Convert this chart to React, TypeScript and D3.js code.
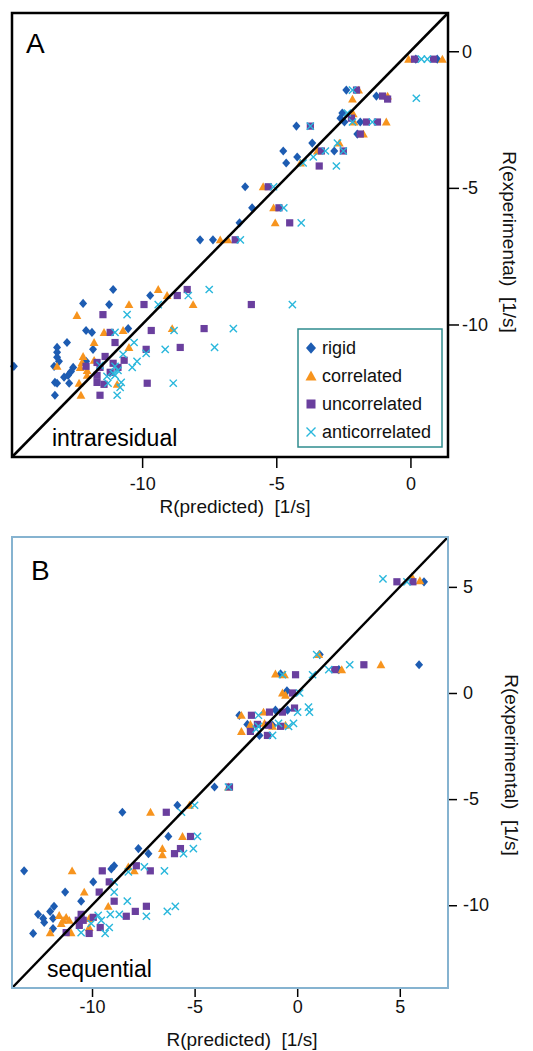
import React, { useEffect, useRef } from "react";
import { axisBottom, axisRight, ScaleLinear, scaleLinear, select } from "d3";

type Pt = [number, number];

const FONT = "'Liberation Sans', Arial, Helvetica, sans-serif";

const seriesNames = ["rigid", "correlated", "uncorrelated", "anticorrelated"];
const seriesColors = ["#1d5cb2", "#f7941e", "#6a3f9e", "#29b7dc"];

// panel A: intraresidual  [R(predicted), R(experimental)]
const rigidA: Pt[] = [
  [1.0, -0.29], [0.2, -0.29], [-2.39, -1.42], [-1.27, -1.64], [-2.54, -2.26], [-2.61, -2.45],
  [-2.46, -2.59], [-1.87, -2.59], [-4.25, -2.74], [-1.98, -3.03], [-3.66, -3.36], [-4.74, -3.65],
  [-2.84, -3.65], [-4.22, -3.87], [-4.63, -4.09], [-6.16, -4.96], [-5.9, -5.73], [-6.37, -6.28],
  [-7.84, -6.9], [-7.36, -6.9], [-11.08, -8.72], [-9.7, -8.94], [-12.2, -9.23], [-11.23, -9.27],
  [-12.09, -10.22], [-11.87, -10.29], [-10.52, -10.15], [-12.8, -10.66], [-13.17, -10.84],
  [-13.17, -11.02], [-11.83, -10.91], [-13.17, -11.2], [-13.1, -11.35], [-12.09, -11.35],
  [-14.78, -11.53], [-13.28, -11.53], [-12.57, -11.57], [-12.65, -11.72], [-12.91, -11.93],
  [-12.76, -11.86], [-13.25, -12.12], [-13.17, -12.15], [-12.72, -12.15], [-13.25, -12.59],
];
const corrA: Pt[] = [
  [-0.07, -0.29], [1.19, -0.29], [-1.93, -1.42], [-2.16, -1.75], [-0.85, -1.64], [-2.13, -2.29],
  [-0.9, -2.59], [-2.1, -2.59], [-1.75, -3.03], [-2.65, -3.36], [-3.47, -3.65], [-4.1, -4.09],
  [-5.49, -4.96], [-5.1, -5.73], [-5.04, -6.28], [-7.09, -6.9], [-6.8, -6.9], [-9.4, -8.72],
  [-9.07, -8.94], [-8.1, -9.27], [-10.49, -9.27], [-12.43, -9.67], [-11.42, -10.29],
  [-10.71, -10.22], [-8.88, -10.15], [-11.79, -10.66], [-10.49, -10.84], [-12.2, -11.17],
  [-11.79, -11.31], [-12.24, -11.39], [-13.17, -11.53], [-12.31, -11.57], [-12.05, -11.68],
  [-12.05, -11.86], [-12.35, -12.15], [-10.93, -12.19], [-12.28, -12.59],
];
const uncorrA: Pt[] = [
  [0.15, -0.29], [0.86, -0.29], [-2.01, -1.42], [-1.04, -1.64], [-0.85, -1.75], [-2.2, -2.45],
  [-1.64, -2.59], [-1.23, -2.59], [-3.73, -2.74], [-1.87, -3.03], [-3.32, -3.65], [-2.5, -3.65],
  [-3.4, -4.2], [-5.3, -4.96], [-4.9, -5.73], [-4.5, -6.28], [-6.53, -6.9], [-8.32, -8.72],
  [-8.69, -8.94], [-9.93, -9.27], [-5.93, -9.27], [-11.46, -9.64], [-11.19, -10.29],
  [-9.66, -10.22], [-7.69, -10.15], [-11.01, -10.66], [-9.85, -10.91], [-8.58, -10.84],
  [-11.38, -11.17], [-11.68, -11.39], [-11.08, -11.42], [-10.67, -11.31], [-12.09, -11.53],
  [-10.9, -11.57], [-11.57, -11.57], [-11.19, -11.75], [-11.68, -11.86], [-11.68, -12.12],
  [-11.42, -12.19], [-9.81, -12.15], [-11.57, -12.59],
];
const antiA: Pt[] = [
  [0.41, -0.29], [0.63, -0.29], [-2.16, -1.42], [0.22, -1.72], [-2.35, -2.26], [-2.16, -2.59],
  [-1.42, -2.59], [-3.73, -2.74], [-2.72, -3.36], [-3.17, -3.65], [-2.5, -3.65], [-3.62, -3.87],
  [-4.0, -4.09], [-2.76, -4.2], [-5.1, -4.96], [-4.72, -5.73], [-4.07, -6.28], [-6.34, -6.9],
  [-7.5, -8.72], [-8.28, -8.94], [-9.4, -9.27], [-4.4, -9.27], [-10.56, -9.64], [-11.01, -10.29],
  [-8.81, -10.22], [-6.6, -10.15], [-10.3, -10.66], [-9.14, -10.91], [-9.85, -11.06],
  [-7.3, -10.84], [-10.71, -11.09], [-10.19, -11.35], [-11.57, -11.5], [-11.01, -11.53],
  [-10.37, -11.57], [-10.9, -11.68], [-11.08, -11.79], [-11.31, -11.9], [-11.01, -11.86],
  [-11.27, -12.15], [-10.78, -12.12], [-8.84, -12.15], [-10.82, -12.3], [-10.93, -12.59],
];

// panel B: sequential
const rigidB: Pt[] = [
  [6.18, 5.24], [1.1, 1.81], [5.94, 1.33], [2.03, 1.1], [-0.81, 0.9], [-0.5, 0.1], [-1.06, -0.81],
  [-0.47, -0.81], [-2.82, -1.05], [-2.43, -1.48], [-1.2, -1.52], [-1.84, -2.0], [-4.03, -4.43],
  [-5.84, -5.29], [-8.52, -5.62], [-6.28, -6.76], [-7.74, -7.33], [-7.25, -7.57], [-13.31, -8.38],
  [-9.06, -8.29], [-8.92, -8.14], [-9.94, -8.9], [-11.31, -9.38], [-10.53, -9.81], [-11.85, -10.05],
  [-12.04, -10.29], [-12.63, -10.43], [-12.38, -10.62], [-11.9, -10.62], [-12.33, -10.81],
  [-12.87, -11.33], [-11.9, -11.1],
];
const corrB: Pt[] = [
  [5.59, 5.48], [5.98, 5.29], [1.05, 1.81], [4.08, 1.33], [2.17, 1.1], [-1.06, 0.9], [-0.62, 0.86],
  [-0.72, 0.0], [-0.57, -0.1], [-2.72, -1.05], [-1.64, -0.9], [-2.28, -1.48], [-1.59, -1.43],
  [-1.2, -1.57], [-0.57, -1.52], [-2.72, -1.81], [-3.35, -4.43], [-5.25, -5.29], [-7.15, -5.62],
  [-5.59, -6.76], [-6.57, -7.33], [-6.57, -7.62], [-10.97, -8.38], [-8.23, -8.19], [-7.94, -8.38],
  [-10.38, -9.38], [-9.21, -10.05], [-11.6, -10.48], [-11.26, -10.57], [-11.41, -10.71],
  [-11.11, -10.71], [-10.14, -10.62], [-11.5, -10.86], [-12.04, -11.29], [-11.02, -11.29],
  [-10.14, -11.05],
];
const uncorrB: Pt[] = [
  [4.86, 5.24], [5.64, 5.24], [3.25, 1.33], [1.83, 1.1], [-0.08, 0.86], [-0.23, 0.0], [-2.23, -1.05],
  [-1.35, -0.9], [-0.72, -0.9], [-0.13, -0.71], [-1.94, -1.48], [-1.4, -1.52], [-0.81, -1.57],
  [-2.28, -1.81], [-1.45, -2.0], [-3.3, -4.43], [-6.38, -5.62], [-5.2, -6.76], [-5.69, -7.33],
  [-5.98, -7.57], [-9.5, -8.38], [-7.84, -8.14], [-7.16, -8.38], [-9.16, -8.9], [-9.65, -9.38],
  [-8.92, -9.81], [-7.35, -10.05], [-7.89, -10.29], [-10.53, -10.43], [-8.33, -10.52],
  [-10.67, -10.71], [-10.43, -10.71], [-9.94, -10.57], [-10.62, -10.95], [-9.6, -11.05],
  [-11.26, -11.29], [-10.14, -11.33],
];
const antiB: Pt[] = [
  [4.18, 5.38], [5.35, 5.24], [0.95, 1.81], [2.56, 1.33], [1.54, 1.1], [-0.72, 0.86], [0.75, 0.86],
  [0.12, 0.0], [-1.89, -1.05], [0.02, -0.9], [0.55, -0.67], [0.6, -0.9], [-1.89, -1.57],
  [-0.91, -1.43], [-0.42, -1.57], [-0.18, -1.43], [-2.0, -1.7], [-1.2, -2.0], [-3.35, -4.43],
  [-5.0, -5.29], [-5.64, -5.62], [-4.86, -6.76], [-5.06, -7.33], [-5.54, -7.57], [-7.45, -8.19],
  [-6.47, -8.38], [-8.23, -8.43], [-8.92, -8.9], [-8.92, -9.38], [-8.28, -9.81], [-5.94, -10.05],
  [-6.33, -10.29], [-9.7, -10.48], [-9.11, -10.43], [-8.67, -10.43], [-7.35, -10.52],
  [-9.55, -10.71], [-10.04, -10.86], [-9.16, -11.05], [-9.36, -11.33], [-10.53, -11.29],
];

const ticksA = [-10, -5, 0];
const ticksB = [-10, -5, 0, 5];
const xTitle = "R(predicted)\u00a0\u00a0[1/s]";
const yTitle = "R(experimental)\u00a0\u00a0[1/s]";

function Marker({ kind, x, y, k = 1 }: { kind: number; x: number; y: number; k?: number }) {
  const c = seriesColors[kind];
  if (kind === 0) {
    const h = 4.6 * k, w = 4 * k;
    return <path d={`M${x},${y - h}L${x + w},${y}L${x},${y + h}L${x - w},${y}Z`} fill={c} />;
  }
  if (kind === 1) {
    const s = 4.4 * k;
    return <path d={`M${x},${y - s}L${x + s},${y + s * 0.8}L${x - s},${y + s * 0.8}Z`} fill={c} />;
  }
  if (kind === 2) {
    const s = 3.6 * k;
    return <rect x={x - s} y={y - s} width={2 * s} height={2 * s} fill={c} />;
  }
  const s = 3.6 * k;
  return (
    <path
      d={`M${x - s},${y - s}L${x + s},${y + s}M${x - s},${y + s}L${x + s},${y - s}`}
      stroke={c}
      strokeWidth={1.4}
      fill="none"
    />
  );
}

interface AxisProps {
  scale: ScaleLinear<number, number>;
  at: number;
  ticks: number[];
  size: number;
  pad: number;
}

function AxisBottom({ scale, at, ticks, size, pad }: AxisProps) {
  const ref = useRef<SVGGElement>(null);
  useEffect(() => {
    if (!ref.current) return;
    const g = select(ref.current);
    g.call(axisBottom(scale).tickValues(ticks).tickSize(size).tickPadding(pad).tickFormat((d) => String(d)));
    g.select(".domain").remove();
    g.selectAll(".tick line").attr("stroke", "#000").attr("stroke-width", 1.5);
    g.selectAll(".tick text").attr("font-size", 18).attr("font-family", FONT).attr("fill", "#111");
  }, [scale, ticks, size, pad]);
  return <g ref={ref} transform={`translate(0,${at})`} />;
}

function AxisRight({ scale, at, ticks, size, pad }: AxisProps) {
  const ref = useRef<SVGGElement>(null);
  useEffect(() => {
    if (!ref.current) return;
    const g = select(ref.current);
    g.call(axisRight(scale).tickValues(ticks).tickSize(size).tickPadding(pad).tickFormat((d) => String(d)));
    g.select(".domain").remove();
    g.selectAll(".tick line").attr("stroke", "#000").attr("stroke-width", 1.5);
    g.selectAll(".tick text").attr("font-size", 18).attr("font-family", FONT).attr("fill", "#111");
  }, [scale, ticks, size, pad]);
  return <g ref={ref} transform={`translate(${at},0)`} />;
}

interface PanelProps {
  frame: { left: number; right: number; top: number; bottom: number };
  domain: [number, number];
  ticks: number[];
  series: Pt[][];
  letter: string;
  tag: string;
  tagPos: [number, number];
  letterPos: [number, number];
  frameColor: string;
  frameWidth: number;
  tickLen: number;
  xPad: number;
  yPad: number;
  xTitlePos: [number, number];
  yTitlePos: [number, number];
  legend?: boolean;
}

function Panel(p: PanelProps) {
  const { left, right, top, bottom } = p.frame;
  const x = scaleLinear().domain(p.domain).range([left, right]);
  const y = scaleLinear().domain(p.domain).range([bottom, top]);
  return (
    <g>
      <AxisBottom scale={x} at={bottom} ticks={p.ticks} size={p.tickLen} pad={p.xPad} />
      <AxisRight scale={y} at={right} ticks={p.ticks} size={p.tickLen} pad={p.yPad} />
      {p.series.map((pts, k) => (
        <g key={seriesNames[k]}>
          {pts.map((d, i) => (
            <Marker key={i} kind={k} x={x(d[0])} y={y(d[1])} />
          ))}
        </g>
      ))}
      <line
        x1={x(p.domain[0])}
        y1={y(p.domain[0])}
        x2={x(p.domain[1])}
        y2={y(p.domain[1])}
        stroke="#000"
        strokeWidth={2.5}
      />
      <rect
        x={left}
        y={top}
        width={right - left}
        height={bottom - top}
        fill="none"
        stroke={p.frameColor}
        strokeWidth={p.frameWidth}
      />
      <text x={p.letterPos[0]} y={p.letterPos[1]} fontSize={28} fontFamily={FONT} fill="#000">
        {p.letter}
      </text>
      <text x={p.tagPos[0]} y={p.tagPos[1]} fontSize={23} fontFamily={FONT} fill="#000">
        {p.tag}
      </text>
      <text
        x={p.xTitlePos[0]}
        y={p.xTitlePos[1]}
        fontSize={19}
        fontFamily={FONT}
        textAnchor="middle"
        fill="#111"
      >
        {xTitle}
      </text>
      <text
        transform={`translate(${p.yTitlePos[0]},${p.yTitlePos[1]}) rotate(90)`}
        fontSize={19}
        fontFamily={FONT}
        textAnchor="middle"
        fill="#111"
      >
        {yTitle}
      </text>
      {p.legend && (
        <g>
          <rect x={298} y={329} width={144} height={118} fill="#fff" stroke="#2f8c8e" strokeWidth={1.5} />
          {seriesNames.map((name, k) => (
            <g key={name}>
              <Marker kind={k} x={311} y={348 + k * 28} k={1.25} />
              <text x={322} y={348 + k * 28} dy="0.35em" fontSize={18} fontFamily={FONT} fill="#111">
                {name}
              </text>
            </g>
          ))}
        </g>
      )}
    </g>
  );
}

export default function App() {
  return (
    <svg
      width={533}
      height={1051}
      style={{ position: "absolute", left: 0, top: 0, background: "#fff" }}
    >
      <rect width={533} height={1051} fill="#fff" />
      <Panel
        frame={{ left: 12, right: 448, top: 13, bottom: 457 }}
        domain={[-14.85, 1.4]}
        ticks={ticksA}
        series={[rigidA, corrA, uncorrA, antiA]}
        letter="A"
        letterPos={[26, 53]}
        tag="intraresidual"
        tagPos={[52, 446]}
        frameColor="#000"
        frameWidth={2.5}
        tickLen={11}
        xPad={9}
        yPad={3}
        xTitlePos={[235, 513]}
        yTitlePos={[503, 242]}
        legend
      />
      <Panel
        frame={{ left: 12, right: 448, top: 537, bottom: 988 }}
        domain={[-13.9, 7.35]}
        ticks={ticksB}
        series={[rigidB, corrB, uncorrB, antiB]}
        letter="B"
        letterPos={[31, 580]}
        tag="sequential"
        tagPos={[47, 977]}
        frameColor="#86b3d0"
        frameWidth={2}
        tickLen={9}
        xPad={3}
        yPad={6}
        xTitlePos={[242, 1046]}
        yTitlePos={[505, 765]}
      />
    </svg>
  );
}
